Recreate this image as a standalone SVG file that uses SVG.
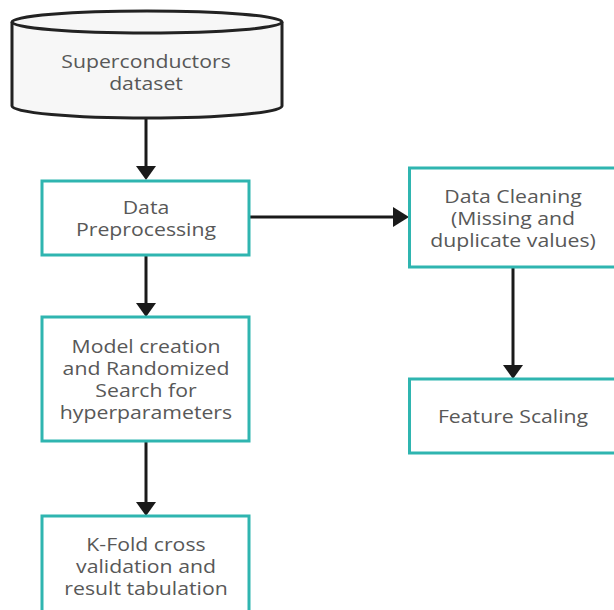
<svg xmlns="http://www.w3.org/2000/svg" width="614" height="610" viewBox="0 0 614 610">
<style>
.box{fill:#ffffff;stroke:#2fb5b0;stroke-width:3}
.cyl{fill:#f7f7f7;stroke:#222;stroke-width:3}
.t{font-family:"Open Sans","Noto Sans",sans-serif;font-size:18px;fill:#585858;text-anchor:middle;dominant-baseline:central}
.ln{stroke:#1a1a1a;stroke-width:3;fill:none}
.hd{fill:#1a1a1a}
</style>
<rect width="614" height="610" fill="#ffffff"/>
<g id="connectors">
<line class="ln" x1="146" y1="117" x2="146" y2="167"/>
<path class="hd" d="M136,166 L156,166 L146,180 Z"/>
<line class="ln" x1="249" y1="217" x2="395" y2="217"/>
<path class="hd" d="M393,207 L409,217 L393,227 Z"/>
<line class="ln" x1="146" y1="255" x2="146" y2="304"/>
<path class="hd" d="M136,303 L156,303 L146,317 Z"/>
<line class="ln" x1="146" y1="441" x2="146" y2="503"/>
<path class="hd" d="M136,502 L156,502 L146,516 Z"/>
<line class="ln" x1="513" y1="267" x2="513" y2="366"/>
<path class="hd" d="M503,365 L523,365 L513,379 Z"/>
</g>
<g id="dataset">
<path class="cyl" d="M12,22 L12,106 A135,12 0 0 0 282,106 L282,22"/>
<ellipse class="cyl" cx="147" cy="22" rx="135" ry="11"/>
<g transform="translate(146 0) scale(1.18 1)">
<text class="t" x="0" y="61">Superconductors</text>
<text class="t" x="0" y="83">dataset</text>
</g>
</g>
<g id="preprocessing">
<rect class="box" x="42" y="181" width="207" height="74"/>
<g transform="translate(146 0) scale(1.18 1)">
<text class="t" x="0" y="207">Data</text>
<text class="t" x="0" y="229">Preprocessing</text>
</g>
</g>
<g id="cleaning">
<rect class="box" x="409.5" y="168" width="210" height="99"/>
<g transform="translate(513 0) scale(1.18 1)">
<text class="t" x="0" y="196">Data Cleaning</text>
<text class="t" x="0" y="218">(Missing and</text>
<text class="t" x="0" y="240">duplicate values)</text>
</g>
</g>
<g id="model">
<rect class="box" x="42" y="317" width="207" height="124"/>
<g transform="translate(146 0) scale(1.18 1)">
<text class="t" x="0" y="346">Model creation</text>
<text class="t" x="0" y="368">and Randomized</text>
<text class="t" x="0" y="390">Search for</text>
<text class="t" x="0" y="412">hyperparameters</text>
</g>
</g>
<g id="kfold">
<rect class="box" x="42" y="516" width="207" height="104"/>
<g transform="translate(146 0) scale(1.18 1)">
<text class="t" x="0" y="544">K-Fold cross</text>
<text class="t" x="0" y="566">validation and</text>
<text class="t" x="0" y="588">result tabulation</text>
</g>
</g>
<g id="scaling">
<rect class="box" x="409.5" y="379" width="210" height="74"/>
<g transform="translate(513 0) scale(1.18 1)">
<text class="t" x="0" y="416">Feature Scaling</text>
</g>
</g>
</svg>
